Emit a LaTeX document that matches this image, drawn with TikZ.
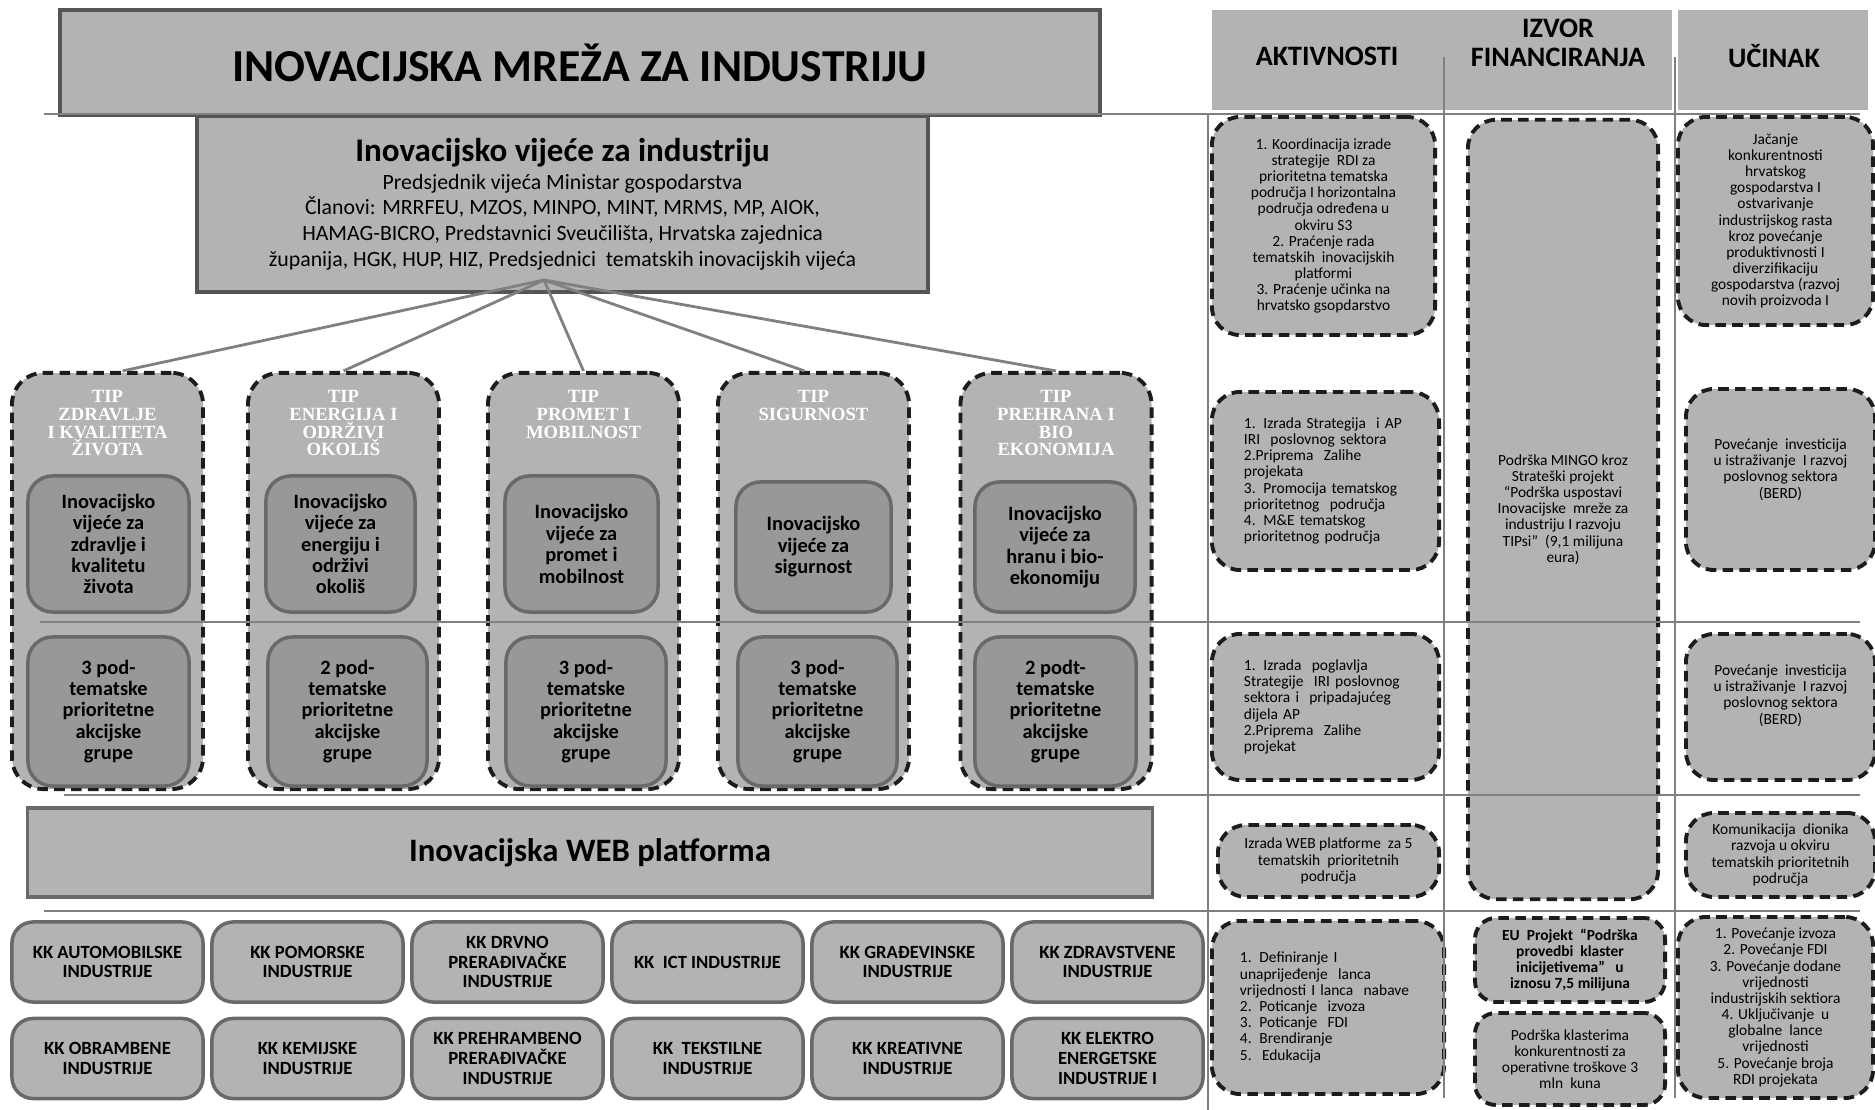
\documentclass[tikz,border=0pt]{standalone}
\usepackage{fontspec}
\setmainfont{Carlito}
\newfontfamily\tipserif{Liberation Serif}

\definecolor{boxgray}{RGB}{179,179,179}
\definecolor{innergray}{RGB}{152,152,152}
\definecolor{rimgray}{RGB}{105,105,105}
\definecolor{titlegray}{RGB}{85,85,85}
\definecolor{gridgray}{RGB}{128,128,128}
\definecolor{dashblack}{RGB}{28,28,28}

\newcommand\smalltxt{\fontsize{4.4}{4.6}\selectfont}
\newcommand\kktxt{\bfseries\fontsize{5.3}{5.6}\selectfont}
\newcommand\ivtxt{\bfseries\fontsize{5.8}{6.1}\selectfont}
\newcommand\tiptxt{\tipserif\bfseries\fontsize{5.3}{5}\selectfont}

\begin{document}
\begin{tikzpicture}[x=0.01cm,y=-0.01cm,
	plainbox/.style={draw=rimgray,line width=1pt,fill=boxgray,inner sep=0pt,align=center},
	dashbox/.style={draw=dashblack,line width=1.1pt,dash pattern=on 3pt off 1.8pt,fill=boxgray,rounded corners=8pt,inner sep=0pt,align=center,font=\smalltxt},
	tipbox/.style={dashbox,rounded corners=9pt,minimum width=1.91cm,minimum height=4.16cm},
	ivbox/.style={draw=rimgray,line width=1pt,fill=innergray,rounded corners=7pt,inner sep=0pt,align=center,font=\ivtxt},
	kkbox/.style={plainbox,rounded corners=6pt,minimum width=1.91cm,minimum height=0.8cm,font=\kktxt},
	tiphead/.style={text=white,font=\tiptxt,align=center,inner sep=0pt,anchor=north,yshift=-0.19cm},
	headtxt/.style={font=\bfseries\fontsize{8}{8.2}\selectfont,align=center,inner sep=0pt},
	leftlist/.style={align=left,text width=#1},
	gridline/.style={draw=gridgray,line width=0.7pt},
	link/.style={draw=gridgray,line width=0.8pt}]

	\useasboundingbox (0,0) rectangle (1875,1110);

	\node[tipbox,label={[tiphead]north:TIP\\ZDRAVLJE\\I KVALITETA\\ŽIVOTA}] (tip1) at (107.5,581) {};
	\node[tipbox,label={[tiphead]north:TIP\\ENERGIJA I\\ODRŽIVI\\OKOLIŠ}] (tip2) at (343.5,581) {};
	\node[tipbox,label={[tiphead]north:TIP\\PROMET I\\MOBILNOST}] (tip3) at (583.5,581) {};
	\node[tipbox,label={[tiphead]north:TIP\\SIGURNOST}] (tip4) at (813.5,581) {};
	\node[tipbox,label={[tiphead]north:TIP\\PREHRANA I\\BIO\\EKONOMIJA}] (tip5) at (1056,581) {};

	\node[ivbox,minimum width=1.61cm,minimum height=1.36cm] (iv1) at (108.5,544) {Inovacijsko\\vijeće za\\zdravlje i\\kvalitetu\\života};
	\node[ivbox,minimum width=1.49cm,minimum height=1.36cm] (iv2) at (340.5,544) {Inovacijsko\\vijeće za\\energiju i\\održivi\\okoliš};
	\node[ivbox,minimum width=1.53cm,minimum height=1.36cm] (iv3) at (581.5,544) {Inovacijsko\\vijeće za\\promet i\\mobilnost};
	\node[ivbox,minimum width=1.55cm,minimum height=1.30cm] (iv4) at (813.5,547) {Inovacijsko\\vijeće za\\sigurnost};
	\node[ivbox,minimum width=1.60cm,minimum height=1.30cm] (iv5) at (1055,547) {Inovacijsko\\vijeće za\\hranu i bio-\\ekonomiju};

	\node[ivbox,minimum width=1.61cm,minimum height=1.49cm] (grp1) at (108.5,711.5) {3 pod-\\tematske\\prioritetne\\akcijske\\grupe};
	\node[ivbox,minimum width=1.59cm,minimum height=1.49cm] (grp2) at (347.5,711.5) {2 pod-\\tematske\\prioritetne\\akcijske\\grupe};
	\node[ivbox,minimum width=1.60cm,minimum height=1.49cm] (grp3) at (586,711.5) {3 pod-\\tematske\\prioritetne\\akcijske\\grupe};
	\node[ivbox,minimum width=1.59cm,minimum height=1.49cm] (grp4) at (817.5,711.5) {3 pod-\\tematske\\prioritetne\\akcijske\\grupe};
	\node[ivbox,minimum width=1.61cm,minimum height=1.49cm] (grp5) at (1055.5,711.5) {2 podt-\\tematske\\prioritetne\\akcijske\\grupe};

	\node[plainbox,draw=titlegray,line width=1.2pt,minimum width=10.4cm,minimum height=1.05cm,font=\bfseries\fontsize{13}{15}\selectfont] (title) at (580,62.5) {INOVACIJSKA MREŽA ZA INDUSTRIJU};
	\node[plainbox,draw=titlegray,minimum width=7.31cm,minimum height=1.76cm,font=\fontsize{6.2}{7.3}\selectfont] (council) at (562.5,204) {{\bfseries\fontsize{9.4}{9.4}\selectfont Inovacijsko vijeće za industriju}\\[0.6pt]Predsjednik vijeća Ministar gospodarstva\\Članovi: MRRFEU, MZOS, MINPO, MINT, MRMS, MP, AIOK,\\HAMAG-BICRO, Predstavnici Sveučilišta, Hrvatska zajednica\\županija, HGK, HUP, HIZ, Predsjednici\ \ tematskih inovacijskih vijeća};

	\coordinate (hub) at (544,280);
	\draw[link] (hub) -- ([xshift=0.15cm]tip1.north);
	\draw[link] (hub) -- (tip2.north);
	\draw[link] (hub) -- (tip3.north);
	\draw[link] (hub) -- ([xshift=-0.09cm]tip4.north);
	\draw[link] (hub) -- (tip5.north);

	\node[plainbox,minimum width=11.24cm,minimum height=0.89cm,font=\bfseries\fontsize{9.3}{11}\selectfont] (web) at (590,852.5) {Inovacijska WEB platforma};

	\node[kkbox] (kk1) at (107.5,962) {KK AUTOMOBILSKE\\INDUSTRIJE};
	\node[kkbox] (kk2) at (307.5,962) {KK POMORSKE\\INDUSTRIJE};
	\node[kkbox] (kk3) at (507.5,962) {KK DRVNO\\PRERAĐIVAČKE\\INDUSTRIJE};
	\node[kkbox] (kk4) at (707.5,962) {KK\ \ ICT INDUSTRIJE};
	\node[kkbox] (kk5) at (907.5,962) {KK GRAĐEVINSKE\\INDUSTRIJE};
	\node[kkbox] (kk6) at (1107.5,962) {KK ZDRAVSTVENE\\INDUSTRIJE};
	\node[kkbox] (kk7) at (107.5,1058.5) {KK OBRAMBENE\\INDUSTRIJE};
	\node[kkbox] (kk8) at (307.5,1058.5) {KK KEMIJSKE\\INDUSTRIJE};
	\node[kkbox] (kk9) at (507.5,1058.5) {KK PREHRAMBENO\\PRERAĐIVAČKE\\INDUSTRIJE};
	\node[kkbox] (kk10) at (707.5,1058.5) {KK\ \ TEKSTILNE\\INDUSTRIJE};
	\node[kkbox] (kk11) at (907.5,1058.5) {KK KREATIVNE\\INDUSTRIJE};
	\node[kkbox] (kk12) at (1107.5,1058.5) {KK ELEKTRO\\ENERGETSKE\\INDUSTRIJE I};

	\node[plainbox,draw=none,minimum width=4.60cm,minimum height=1.00cm] (hdr1) at (1442,60) {};
	\node[headtxt] (hakt) at (1327,56) {AKTIVNOSTI};
	\node[headtxt] (hfin) at (1558,43) {IZVOR\\FINANCIRANJA};
	\node[plainbox,draw=none,minimum width=1.90cm,minimum height=1.00cm] (hdr2) at (1773,60) {};
	\node[headtxt] (hucin) at (1774,56) {UČINAK};

	\node[dashbox,minimum width=2.23cm,minimum height=2.18cm] (akt1) at (1323.5,226) {1. Koordinacija izrade\\strategije\ \ RDI za\\prioritetna tematska\\područja I horizontalna\\područja određena u\\okviru S3\\2. Praćenje rada\\tematskih\ \ inovacijskih\\platformi\\3. Praćenje učinka na\\hrvatsko gsopdarstvo};
	\node[dashbox,leftlist=1.63cm,minimum width=2.27cm,minimum height=1.78cm] (akt2) at (1325.5,481) {1. Izrada Strategija\ \ i AP\\IRI\ \ poslovnog sektora\\2.Priprema\ \ Zalihe\\projekata\\3. Promocija tematskog\\prioritetnog\ \ područja\\4. M\&E tematskog\\prioritetnog područja};
	\node[dashbox,leftlist=1.63cm,minimum width=2.27cm,minimum height=1.46cm] (akt3) at (1325.5,707) {1. Izrada\ \ poglavlja\\Strategije\ \ IRI poslovnog\\sektora i\ \ pripadajućeg\\dijela AP\\2.Priprema\ \ Zalihe\\projekat};
	\node[dashbox,minimum width=2.21cm,minimum height=0.72cm] (akt4) at (1328.5,861) {Izrada WEB platforme\ \ za 5\\tematskih\ \ prioritetnih\\područja};
	\node[dashbox,leftlist=1.76cm,minimum width=2.32cm,minimum height=1.73cm] (akt5) at (1328,1007.5) {1. Definiranje I\\unaprijeđenje\ \ lanca\\vrijednosti I lanca\ \ nabave\\2. Poticanje\ \ izvoza\\3. Poticanje\ \ FDI\\4. Brendiranje\\5.\ \ Edukacija};

	\node[dashbox,minimum width=1.90cm,minimum height=7.79cm] (fin1) at (1563,509.5) {Podrška MINGO kroz\\Strateški projekt\\“Podrška uspostavi\\Inovacijske\ \ mreže za\\industriju I razvoju\\TIPsi”\ \ (9,1 milijuna\\eura)};
	\node[dashbox,rounded corners=6pt,minimum width=1.90cm,minimum height=0.84cm,font=\smalltxt\bfseries] (fin2) at (1570,960) {EU\ \ Projekt\ \ “Podrška\\provedbi\ \ klaster\\inicijetivema”\ \ \ u\\iznosu 7,5 milijuna};
	\node[dashbox,rounded corners=6pt,minimum width=1.90cm,minimum height=0.92cm] (fin3) at (1570,1059) {Podrška klasterima\\konkurentnosti za\\operativne troškove 3\\mln\ \ kuna};

	\node[dashbox,minimum width=1.95cm,minimum height=2.08cm] (uc1) at (1775.5,221) {Jačanje\\konkurentnosti\\hrvatskog\\gospodarstva I\\ostvarivanje\\industrijskog rasta\\kroz povećanje\\produktivnosti I\\diverzifikaciju\\gospodarstva (razvoj\\novih proizvoda I};
	\node[dashbox,minimum width=1.89cm,minimum height=1.81cm,text depth=0.22cm] (uc2) at (1780.5,479.5) {Povećanje\ \ investicija\\u istraživanje\ \ I razvoj\\poslovnog sektora\\(BERD)};
	\node[dashbox,minimum width=1.89cm,minimum height=1.46cm,text depth=0.25cm] (uc3) at (1780.5,707) {Povećanje\ \ investicija\\u istraživanje\ \ I razvoj\\poslovnog sektora\\(BERD)};
	\node[dashbox,minimum width=1.89cm,minimum height=0.84cm] (uc4) at (1780.5,855) {Komunikacija\ \ dionika\\razvoja u okviru\\tematskih prioritetnih\\područja};
	\node[dashbox,minimum width=1.95cm,minimum height=1.81cm] (uc5) at (1775.5,1007.5) {1. Povećanje izvoza\\2. Povećanje FDI\\3. Povećanje dodane\\vrijednosti\\industrijskih sektiora\\4. Uključivanje\ \ u\\globalne\ \ lance\\vrijednosti\\5. Povećanje broja\\RDI projekata};

	\draw[gridline] (44,114) -- (1860,114);
	\draw[gridline] (40,622) -- (1860,622);
	\draw[gridline] (64,795) -- (1860,795);
	\draw[gridline] (44,911) -- (1860,911);
	\draw[gridline] (1208,114) -- (1208,1110);
	\draw[gridline] (1444,57) -- (1444,1098);
	\draw[gridline] (1675,57) -- (1675,1098);
\end{tikzpicture}
\end{document}
